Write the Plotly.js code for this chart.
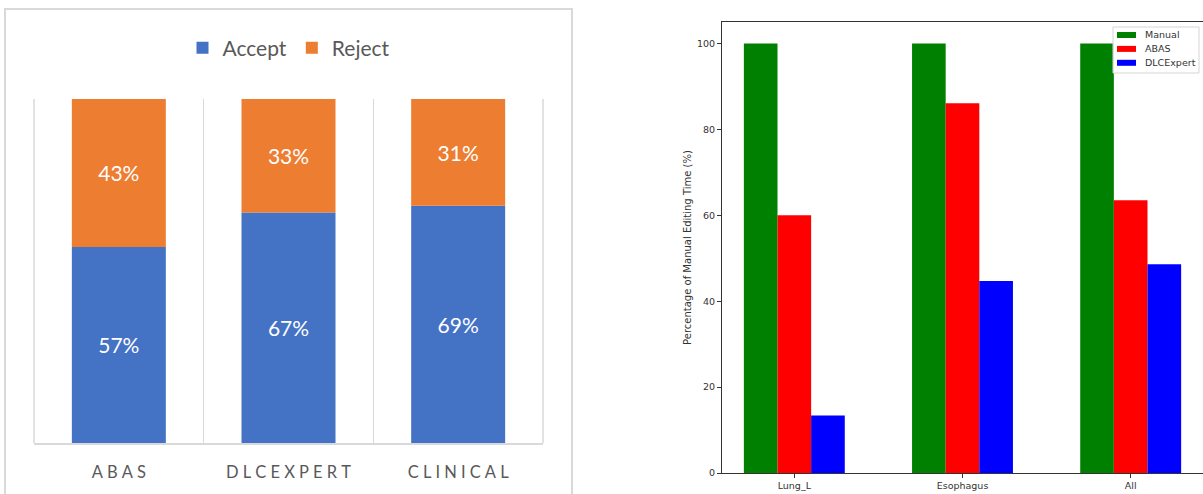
<!DOCTYPE html>
<html><head><meta charset="utf-8">
<script src="https://cdn.plot.ly/plotly-3.0.1.min.js"></script>
<style>html,body{margin:0;padding:0;background:#fff}#chart{width:1203px;height:494px}</style>
</head><body><div id="chart"></div>
<script>
// ---- data ----
const reviewCategories = ['ABAS', 'DLCEXPERT', 'CLINICAL'];
const acceptPct = [57, 67, 69];
const rejectPct = [43, 33, 31];

const structures = ['Lung_L', 'Esophagus', 'All'];
const manualTime = [100, 100, 100];
const abasTime = [60.0, 86.1, 63.5];
const dlcTime = [13.4, 44.7, 48.6];
const rightSeriesNames = ['Manual', 'ABAS', 'DLCExpert'];
const rightSeriesColors = ['#008000', '#FF0000', '#0000FF'];
const rightYTicks = [0, 20, 40, 60, 80, 100];

// ---- layout helpers ----
const W = 1203, H = 494;
const px = x => x / W;
const py = y => 1 - y / H;
const spacedLabels = reviewCategories.map(c => c.split('').join('\u2005'));
const pctText = arr => arr.map(v => v + '%');

const leftLabelFont = {family: 'Lato, "Open Sans", sans-serif', size: 21, color: '#ffffff'};
const rightValues = [manualTime, abasTime, dlcTime];
const rightOffsets = [-0.3, -0.1, 0.1];

const traces = [
  {type: 'bar', name: 'Accept', x: reviewCategories, y: acceptPct,
   xaxis: 'x', yaxis: 'y', width: 0.554, offset: -0.277,
   marker: {color: '#4472C4'}, text: pctText(acceptPct), textposition: 'inside',
   insidetextanchor: 'middle', textangle: 0, textfont: leftLabelFont,
   legend: 'legend', hoverinfo: 'skip'},
  {type: 'bar', name: 'Reject', x: reviewCategories, y: rejectPct, base: acceptPct,
   xaxis: 'x', yaxis: 'y', width: 0.554, offset: -0.277,
   marker: {color: '#ED7D31'}, text: pctText(rejectPct), textposition: 'inside',
   insidetextanchor: 'middle', textangle: 0, textfont: leftLabelFont,
   legend: 'legend', hoverinfo: 'skip'}
];
rightSeriesNames.forEach((name, i) => {
  traces.push({type: 'bar', name: name, x: structures, y: rightValues[i],
    xaxis: 'x2', yaxis: 'y2', width: 0.2, offset: rightOffsets[i],
    marker: {color: rightSeriesColors[i]}, showlegend: false});
});

const mplFont = {family: '"DejaVu Sans", sans-serif', size: 9.5, color: '#333333'};

// outer edge grid lines of the left plot area (interior ones come from the axis)
const edgeGrid = [0, 1].map(e => ({type: 'line', xref: 'x domain', yref: 'y domain',
  x0: e, x1: e, y0: 0, y1: 1, line: {color: '#d9d9d9', width: 1.5}, layer: 'below'}));

// matplotlib-style legend box for the right panel
const legShapes = [
  {type: 'rect', xref: 'paper', yref: 'paper', x0: px(1113), x1: px(1199), y0: py(73), y1: py(27),
   line: {color: '#d5d5d5', width: 1}, fillcolor: 'rgba(255,255,255,0.85)', layer: 'above'}
];
const legAnnots = [];
rightSeriesNames.forEach((name, i) => {
  const yc = 35 + i * 13.9;
  legShapes.push({type: 'rect', xref: 'paper', yref: 'paper', x0: px(1117), x1: px(1136),
    y0: py(yc + 3), y1: py(yc - 3), line: {width: 0}, fillcolor: rightSeriesColors[i], layer: 'above'});
  legAnnots.push({xref: 'paper', yref: 'paper', x: px(1143), y: py(yc), xanchor: 'left', yanchor: 'middle',
    text: name, showarrow: false, font: {family: '"DejaVu Sans", sans-serif', size: 9.5, color: '#333333'}});
});

const layout = {
  width: W, height: H,
  margin: {l: 0, r: 0, t: 0, b: 0},
  paper_bgcolor: '#ffffff', plot_bgcolor: 'rgba(0,0,0,0)',
  barmode: 'overlay',
  showlegend: true,
  xaxis: {
    domain: [px(34), px(543)], anchor: 'y', type: 'category',
    range: [-0.5, 2.5], tickmode: 'array', tickvals: reviewCategories, ticktext: spacedLabels,
    tickson: 'boundaries', ticks: '', showgrid: true, gridcolor: '#d9d9d9', gridwidth: 1.5,
    showline: true, linecolor: '#d9d9d9', linewidth: 1.5, zeroline: false,
    tickfont: {family: 'Lato, "Open Sans", sans-serif', size: 16.5, color: '#595959'},
    ticklabelstandoff: 14, fixedrange: true
  },
  yaxis: {
    domain: [py(443), py(99)], anchor: 'x', range: [0, 100],
    visible: false, showgrid: false, zeroline: false, fixedrange: true
  },
  xaxis2: {
    domain: [px(722), 1], anchor: 'y2', type: 'category', range: [-0.43, 2.43],
    ticks: 'outside', ticklen: 4, tickcolor: '#333333', tickwidth: 1,
    showline: true, mirror: true, linecolor: '#333333', linewidth: 1,
    showgrid: false, zeroline: false, tickfont: mplFont, fixedrange: true
  },
  yaxis2: {
    domain: [py(473), py(22)], anchor: 'x2', range: [0, 105],
    tickmode: 'array', tickvals: rightYTicks,
    ticks: 'outside', ticklen: 4, tickcolor: '#333333', tickwidth: 1,
    showline: true, mirror: true, linecolor: '#333333', linewidth: 1,
    showgrid: false, zeroline: false, tickfont: mplFont, fixedrange: true,
    title: {text: 'Percentage of Manual Editing Time (%)', standoff: 3,
            font: {family: '"DejaVu Sans", sans-serif', size: 10, color: '#333333'}}
  },
  legend: {
    orientation: 'h', x: px(289), xanchor: 'center', y: py(48), yanchor: 'middle',
    font: {family: 'Lato, "Open Sans", sans-serif', size: 21, color: '#595959'},
    bgcolor: 'rgba(0,0,0,0)', borderwidth: 0, traceorder: 'normal'
  },
  shapes: [
    {type: 'rect', xref: 'paper', yref: 'paper', x0: px(5), x1: px(572), y0: -0.05, y1: py(9),
     line: {color: '#d9d9d9', width: 2}, fillcolor: 'rgba(0,0,0,0)', layer: 'below'}
  ].concat(edgeGrid, legShapes),
  annotations: legAnnots
};

Plotly.newPlot('chart', traces, layout, {displayModeBar: false, staticPlot: true});
</script>
</body></html>
